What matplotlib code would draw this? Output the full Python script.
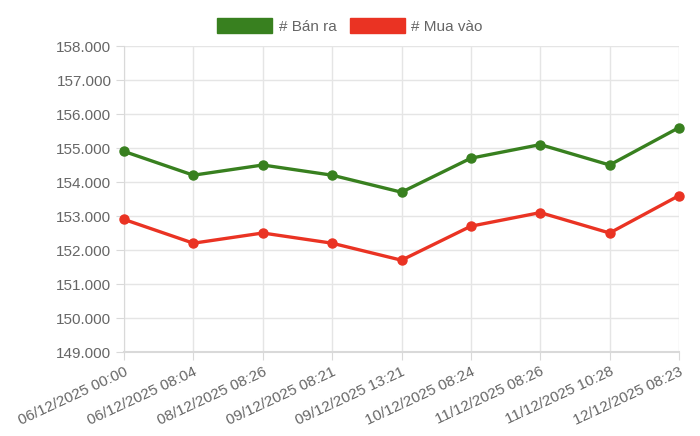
import matplotlib
matplotlib.use("Agg")
import matplotlib.pyplot as plt
from matplotlib.patches import Patch
from matplotlib.ticker import FuncFormatter

plt.rcParams['font.family'] = ['Liberation Sans', 'DejaVu Sans']

labels = ["06/12/2025 00:00", "06/12/2025 08:04", "08/12/2025 08:26",
          "09/12/2025 08:21", "09/12/2025 13:21", "10/12/2025 08:24",
          "11/12/2025 08:26", "11/12/2025 10:28", "12/12/2025 08:23"]
ban_ra = [154900, 154200, 154500, 154200, 153700, 154700, 155100, 154500, 155600]
mua_vao = [152900, 152200, 152500, 152200, 151700, 152700, 153100, 152500, 153600]

green = '#38801f'
red = '#ea3323'
grey = '#666666'

fig = plt.figure(figsize=(7, 4.36), dpi=100)
ax = fig.add_axes([124/700, 1-352/436, (679-124)/700, (352-46)/436])

x = range(len(labels))
ax.plot(x, ban_ra, '-o', color=green, lw=2.4, ms=6.5, zorder=3, clip_on=False)
ax.plot(x, mua_vao, '-o', color=red, lw=2.4, ms=6.5, zorder=3, clip_on=False)

ax.set_xlim(0, len(labels) - 1)
ax.set_ylim(149000, 158000)
ax.set_yticks(range(149000, 158001, 1000))
ax.yaxis.set_major_formatter(FuncFormatter(lambda v, p: f"{int(v):,}".replace(',', '.')))
ax.set_xticks(list(x))
ax.set_xticklabels(labels, rotation=25, ha='right', rotation_mode='anchor')

ax.grid(True, color='#e5e5e5', lw=1)
ax.set_axisbelow(True)
for s in ['top', 'right']:
    ax.spines[s].set_visible(False)
ax.spines['left'].set_color('#d9d9d9')
ax.spines['bottom'].set_color('#d9d9d9')
ax.spines['bottom'].set_linewidth(1.5)
ax.tick_params(axis='both', colors='#d9d9d9', labelcolor=grey, labelsize=11, length=6, pad=3)

handles = [Patch(facecolor=green, edgecolor=green, label='# Bán ra'),
           Patch(facecolor=red, edgecolor=red, label='# Mua vào')]
fig.legend(handles=handles, loc='center', bbox_to_anchor=(0.5, 1-26/436), ncol=2,
           frameon=False, fontsize=11, labelcolor=grey, handlelength=3.6, handleheight=1.1,
           handletextpad=0.4, columnspacing=0.9)

fig.savefig('out.png', dpi=100, facecolor='white')
